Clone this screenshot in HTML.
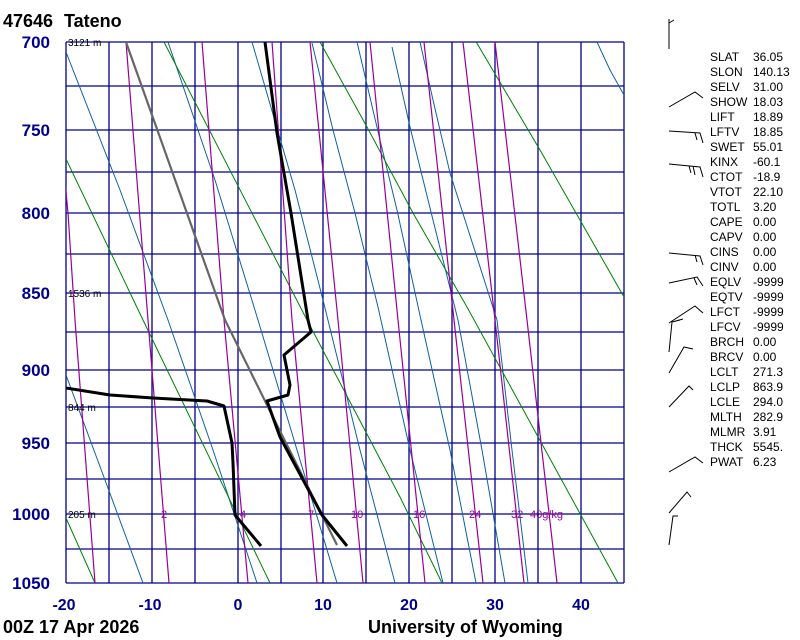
<!DOCTYPE html>
<html><head><meta charset="utf-8"><style>
html,body{margin:0;padding:0;background:#fff;}
svg{display:block;}
</style></head><body>
<svg width="800" height="640" viewBox="0 0 800 640" xmlns="http://www.w3.org/2000/svg" font-family="Liberation Sans, sans-serif">
<rect width="800" height="640" fill="#fff"/>
<defs><clipPath id="pc"><rect x="66" y="42" width="558" height="541"/></clipPath></defs>
<!-- grid -->
<g stroke="#00008b" stroke-width="1.3" fill="none">
<path d="M66 42H624M66 86H624M66 130H624M66 172H624M66 213H624M66 254H624M66 293H624M66 332H624M66 370H624M66 407H624M66 443H624M66 479H624M66 514H624M66 549H624M66 583H624"/>
<path d="M66 42V583M109 42V583M152 42V583M195 42V583M238 42V583M281 42V583M323 42V583M366 42V583M409 42V583M452 42V583M495 42V583M538 42V583M581 42V583M624 42V583"/>
</g>
<g clip-path="url(#pc)" fill="none">
<!-- moist adiabats -->
<g stroke="#1060a0" stroke-width="1">
<polyline points="66,375 105,480 143,583"/>
<polyline points="66,52 120,190 168,320 213,450 257,583"/>
<polyline points="168,42 215,180 258,320 297,450 337,583"/>
<polyline points="252,42 295,190 323,300 360,450 395,583"/>
<polyline points="312,43 333,130 355,213 378,307 410,450 443,583"/>
<polyline points="357,42 380,140 397,210 421,320 450,450 476,583"/>
<polyline points="392,47 410,127 433,220 458,320 482,450 505,583"/>
<polyline points="420,42 433,100 450,173 497,320 512,450 528,583"/>
<polyline points="597,42 610,70 624,95"/>
</g>
<!-- dry adiabats -->
<g stroke="#008000" stroke-width="1">
<polyline points="66,518 95,583"/>
<polyline points="66,159 143,320 270,583"/>
<polyline points="164,42 307,320 400,497 442,583"/>
<polyline points="320,42 367,127 413,213 467,307 618,583"/>
<polyline points="475,40 540,150 624,297"/>
</g>
<!-- mixing ratio -->
<g stroke="#990099" stroke-width="1.2">
<polyline points="64,170 68,213 75,320 95,583"/>
<polyline points="126,42 148,320 169,583"/>
<polyline points="202,42 224,320 248,583"/>
<polyline points="272,42 292,320 317,583"/>
<polyline points="310,42 338,320 363,583"/>
<polyline points="370,42 398,320 425,583"/>
<polyline points="424,42 454,320 483,583"/>
<polyline points="463,42 495,320 524,583"/>
<polyline points="495,42 527,320 557,583"/>
</g>
<!-- parcel -->
<polyline points="126,42 225,320 267,405 337,545" stroke="#666" stroke-width="2.2"/>
<!-- temperature -->
<polyline points="265,42 277,133 291,213 308,320 311,332 284,355 290,385 288,395 267,401 280,437 322,515 347,546" stroke="#000" stroke-width="3" stroke-linejoin="round"/>
<!-- dewpoint -->
<polyline points="60,387 110,395 153,398 207,401 224,406 232,443 233,463 235,515 261,546" stroke="#000" stroke-width="3" stroke-linejoin="round"/>
</g>
<!-- mixing labels -->
<g fill="#990099" font-size="11">
<text x="161" y="518">2</text><text x="240" y="518">4</text><text x="308" y="518">7</text>
<text x="351" y="518">10</text><text x="413" y="518">16</text><text x="469" y="518">24</text>
<text x="511" y="518">32</text><text x="530" y="518">40g/kg</text>
</g>
<!-- heights -->
<g fill="#000" font-size="10">
<text x="68" y="46">3121 m</text><text x="68" y="297">1536 m</text>
<text x="68" y="411">844 m</text><text x="68" y="518">205 m</text>
</g>
<!-- pressure labels -->
<g fill="#00008b" font-size="17" font-weight="bold" text-anchor="end">
<text x="50" y="48">700</text><text x="50" y="136">750</text><text x="50" y="219">800</text>
<text x="50" y="299">850</text><text x="50" y="376">900</text><text x="50" y="449">950</text>
<text x="50" y="520">1000</text><text x="50" y="589">1050</text>
</g>
<g fill="#00008b" font-size="16" font-weight="bold" text-anchor="middle">
<text x="64" y="610">-20</text><text x="150" y="610">-10</text><text x="238" y="610">0</text>
<text x="323" y="610">10</text><text x="409" y="610">20</text><text x="495" y="610">30</text><text x="581" y="610">40</text>
</g>
<g fill="#000" font-size="18" font-weight="bold">
<text x="3" y="27">47646</text><text x="64" y="27">Tateno</text>
<text x="3" y="633">00Z 17 Apr 2026</text>
<text x="368" y="633">University of Wyoming</text>
</g>
<!-- indices -->
<g fill="#000" font-size="12">
<text x="710" y="61">SLAT</text><text x="753" y="61">36.05</text>
<text x="710" y="76">SLON</text><text x="753" y="76">140.13</text>
<text x="710" y="91">SELV</text><text x="753" y="91">31.00</text>
<text x="710" y="106">SHOW</text><text x="753" y="106">18.03</text>
<text x="710" y="121">LIFT</text><text x="753" y="121">18.89</text>
<text x="710" y="136">LFTV</text><text x="753" y="136">18.85</text>
<text x="710" y="151">SWET</text><text x="753" y="151">55.01</text>
<text x="710" y="166">KINX</text><text x="753" y="166">-60.1</text>
<text x="710" y="181">CTOT</text><text x="753" y="181">-18.9</text>
<text x="710" y="196">VTOT</text><text x="753" y="196">22.10</text>
<text x="710" y="211">TOTL</text><text x="753" y="211">3.20</text>
<text x="710" y="226">CAPE</text><text x="753" y="226">0.00</text>
<text x="710" y="241">CAPV</text><text x="753" y="241">0.00</text>
<text x="710" y="256">CINS</text><text x="753" y="256">0.00</text>
<text x="710" y="271">CINV</text><text x="753" y="271">0.00</text>
<text x="710" y="286">EQLV</text><text x="753" y="286">-9999</text>
<text x="710" y="301">EQTV</text><text x="753" y="301">-9999</text>
<text x="710" y="316">LFCT</text><text x="753" y="316">-9999</text>
<text x="710" y="331">LFCV</text><text x="753" y="331">-9999</text>
<text x="710" y="346">BRCH</text><text x="753" y="346">0.00</text>
<text x="710" y="361">BRCV</text><text x="753" y="361">0.00</text>
<text x="710" y="376">LCLT</text><text x="753" y="376">271.3</text>
<text x="710" y="391">LCLP</text><text x="753" y="391">863.9</text>
<text x="710" y="406">LCLE</text><text x="753" y="406">294.0</text>
<text x="710" y="421">MLTH</text><text x="753" y="421">282.9</text>
<text x="710" y="436">MLMR</text><text x="753" y="436">3.91</text>
<text x="710" y="451">THCK</text><text x="753" y="451">5545.</text>
<text x="710" y="466">PWAT</text><text x="753" y="466">6.23</text>
</g>
<!-- wind barbs -->
<g stroke="#000" stroke-width="1" fill="none">
<path d="M669 19V49M669 23L674 20"/>
<path d="M669 107L695 92L703 98"/>
<path d="M669 131L700 133L703 143M695 133L697 140"/>
<path d="M669 164L700 167L703 177M689 166L691 173M693 166L695 175"/>
<path d="M669 253L700 256L703 265M695 255L697 262"/>
<path d="M669 283L697 277L703 286M694 278L697 285"/>
<path d="M669 323L695 306L703 313"/>
<path d="M669 352L672 322L683 319M672 322L680 320"/>
<path d="M669 373L684 347L693 349"/>
<path d="M669 407L689 386L693 390"/>
<path d="M669 472L695 457L703 463"/>
<path d="M669 513L687 492L691 497"/>
<path d="M669 545L673 516L678 516"/>
</g>
</svg>
</body></html>
